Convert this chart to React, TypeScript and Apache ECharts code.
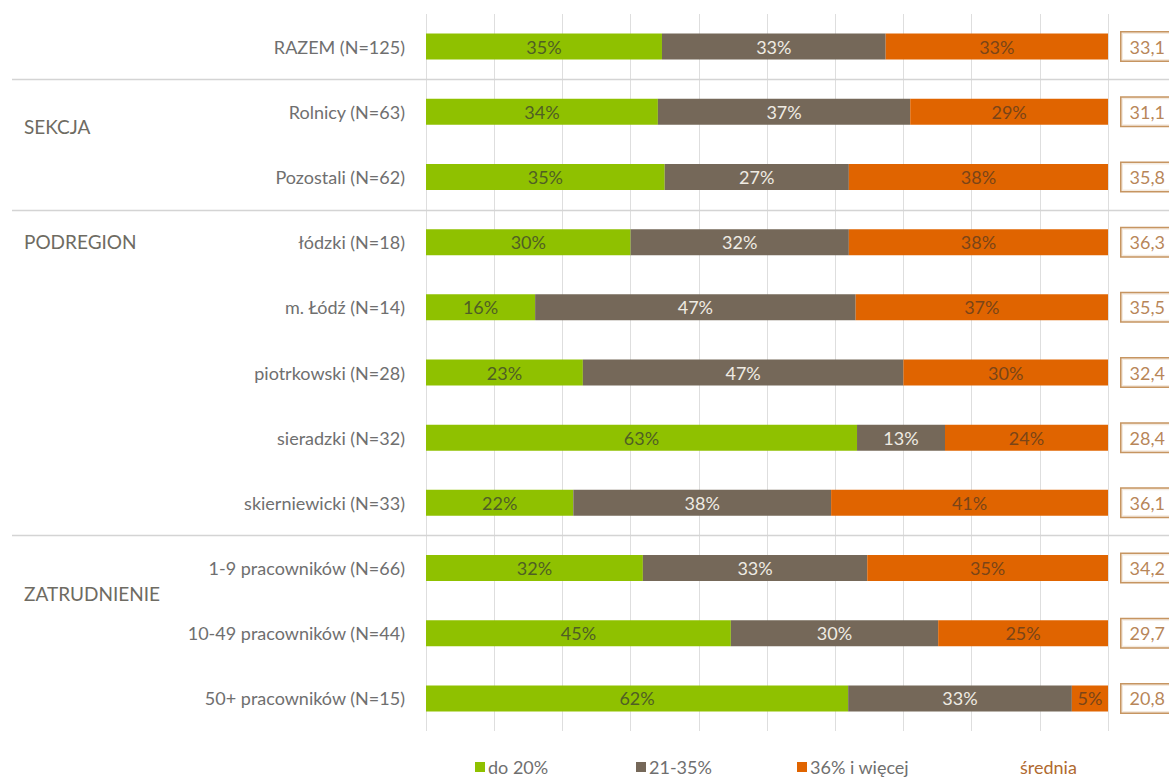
import React, { useEffect, useRef } from "react";
import * as echarts from "echarts";

const categories = [
  "RAZEM (N=125)",
  "Rolnicy (N=63)",
  "Pozostali (N=62)",
  "łódzki (N=18)",
  "m. Łódź (N=14)",
  "piotrkowski (N=28)",
  "sieradzki (N=32)",
  "skierniewicki (N=33)",
  "1-9 pracowników (N=66)",
  "10-49 pracowników (N=44)",
  "50+ pracowników (N=15)",
];
const seriesNames = ["do 20%", "21-35%", "36% i więcej"];
const low = [34.6, 34, 35, 30, 16, 23, 63.2, 21.6, 31.8, 44.7, 61.9];
const mid = [32.8, 37, 27, 32, 47, 47, 12.9, 37.8, 32.9, 30.4, 32.8];
const high = [32.6, 29, 38, 38, 37, 30, 23.9, 40.6, 35.3, 24.9, 5.3];
const averages = [33.1, 31.1, 35.8, 36.3, 35.5, 32.4, 28.4, 36.1, 34.2, 29.7, 20.8];
const averageName = "średnia";
const groupNames = ["SEKCJA", "PODREGION", "ZATRUDNIENIE"];
const separatorsAfter = [0, 2, 7];

const FONT = "Lato, 'Open Sans', sans-serif";
const COLORS = ["#8fc100", "#756859", "#e06400"];
const LABEL_COLORS = ["#4f5f24", "#efebe3", "#7a4418"];
const LEGEND_LEFT = [475, 636, 797];

export default function App() {
  const ref = useRef<HTMLDivElement>(null);
  useEffect(() => {
    if (!ref.current) return;
    const chart = echarts.init(ref.current, undefined, { renderer: "svg" });
    const values = [low, mid, high];
    const barSeries = values.map((arr, si) => ({
      name: seriesNames[si],
      type: "bar",
      stack: "total",
      barWidth: 26,
      itemStyle: { color: COLORS[si] },
      label: {
        show: true,
        position: "inside",
        fontFamily: FONT,
        fontSize: 18,
        color: LABEL_COLORS[si],
        formatter: (p: any) => Math.round(p.value) + "%",
      },
      data: arr,
      z: 3,
    }));
    const legends = seriesNames.map((n, i) => ({
      data: [n],
      left: LEGEND_LEFT[i],
      top: 758,
      padding: 0,
      icon: "rect",
      itemWidth: 10,
      itemHeight: 10,
      itemGap: 0,
      textStyle: { fontFamily: FONT, fontSize: 18, color: "#6f6f6f", padding: [0, 0, 0, -2] },
    }));
    chart.setOption({
      animation: false,
      textStyle: { fontFamily: FONT },
      grid: { left: 426, right: 61, top: 14, bottom: 47 },
      xAxis: {
        type: "value",
        min: 0,
        max: 100,
        interval: 10,
        axisLabel: { show: false },
        axisLine: { show: false },
        axisTick: { show: false },
        splitLine: { show: true, lineStyle: { color: "#dedede", width: 1 } },
      },
      yAxis: {
        type: "category",
        inverse: true,
        data: categories,
        axisLine: { show: false },
        axisTick: { show: false },
        axisLabel: { margin: 21, fontFamily: FONT, fontSize: 18, color: "#6f6f6f" },
      },
      legend: legends,
      series: [
        ...barSeries,
        {
          name: averageName,
          type: "scatter",
          symbolSize: 1,
          itemStyle: { color: "rgba(0,0,0,0)" },
          data: categories.map((c, i) => [100, c, averages[i]]),
          encode: { x: 0, y: 1 },
          z: 5,
          label: {
            show: true,
            position: "right",
            distance: 13,
            fontFamily: FONT,
            fontSize: 18,
            color: "#a5652b",
            backgroundColor: "#ffffff",
            borderColor: "#b87a3a",
            borderWidth: 1.5,
            padding: [6, 40, 4, 8],
            formatter: (p: any) => String(p.value[2]).replace(".", ","),
          },
        },
      ],
    });
    const yc = (i: number) => chart.convertToPixel({ yAxisIndex: 0 }, categories[i]) as number;
    const seps = separatorsAfter.map((i) => {
      const y = Math.round((yc(i) + yc(i + 1)) / 2) + 0.5;
      return {
        type: "line",
        shape: { x1: 12, y1: y, x2: 1169, y2: y },
        style: { stroke: "#d4d4d4", lineWidth: 1.5 },
        z: 10,
      };
    });
    const groupY = [yc(1) + 16, yc(3) + 1, (yc(8) + yc(9)) / 2 - 6];
    const groupTexts = groupNames.map((g, i) => ({
      type: "text",
      left: 24,
      top: groupY[i] - 11,
      style: { text: g, fontFamily: FONT, fontSize: 19, fill: "#6e6b62" },
    }));
    chart.setOption({
      graphic: [
        ...seps,
        ...groupTexts,
        {
          type: "text",
          left: 1020,
          top: 758,
          style: { text: averageName, fontFamily: FONT, fontSize: 18, fill: "#b06a30" },
        },
      ],
    });
    return () => chart.dispose();
  }, []);
  return (
    <div
      ref={ref}
      style={{ position: "fixed", left: 0, top: 0, width: 1169, height: 778, background: "#fff" }}
    />
  );
}
